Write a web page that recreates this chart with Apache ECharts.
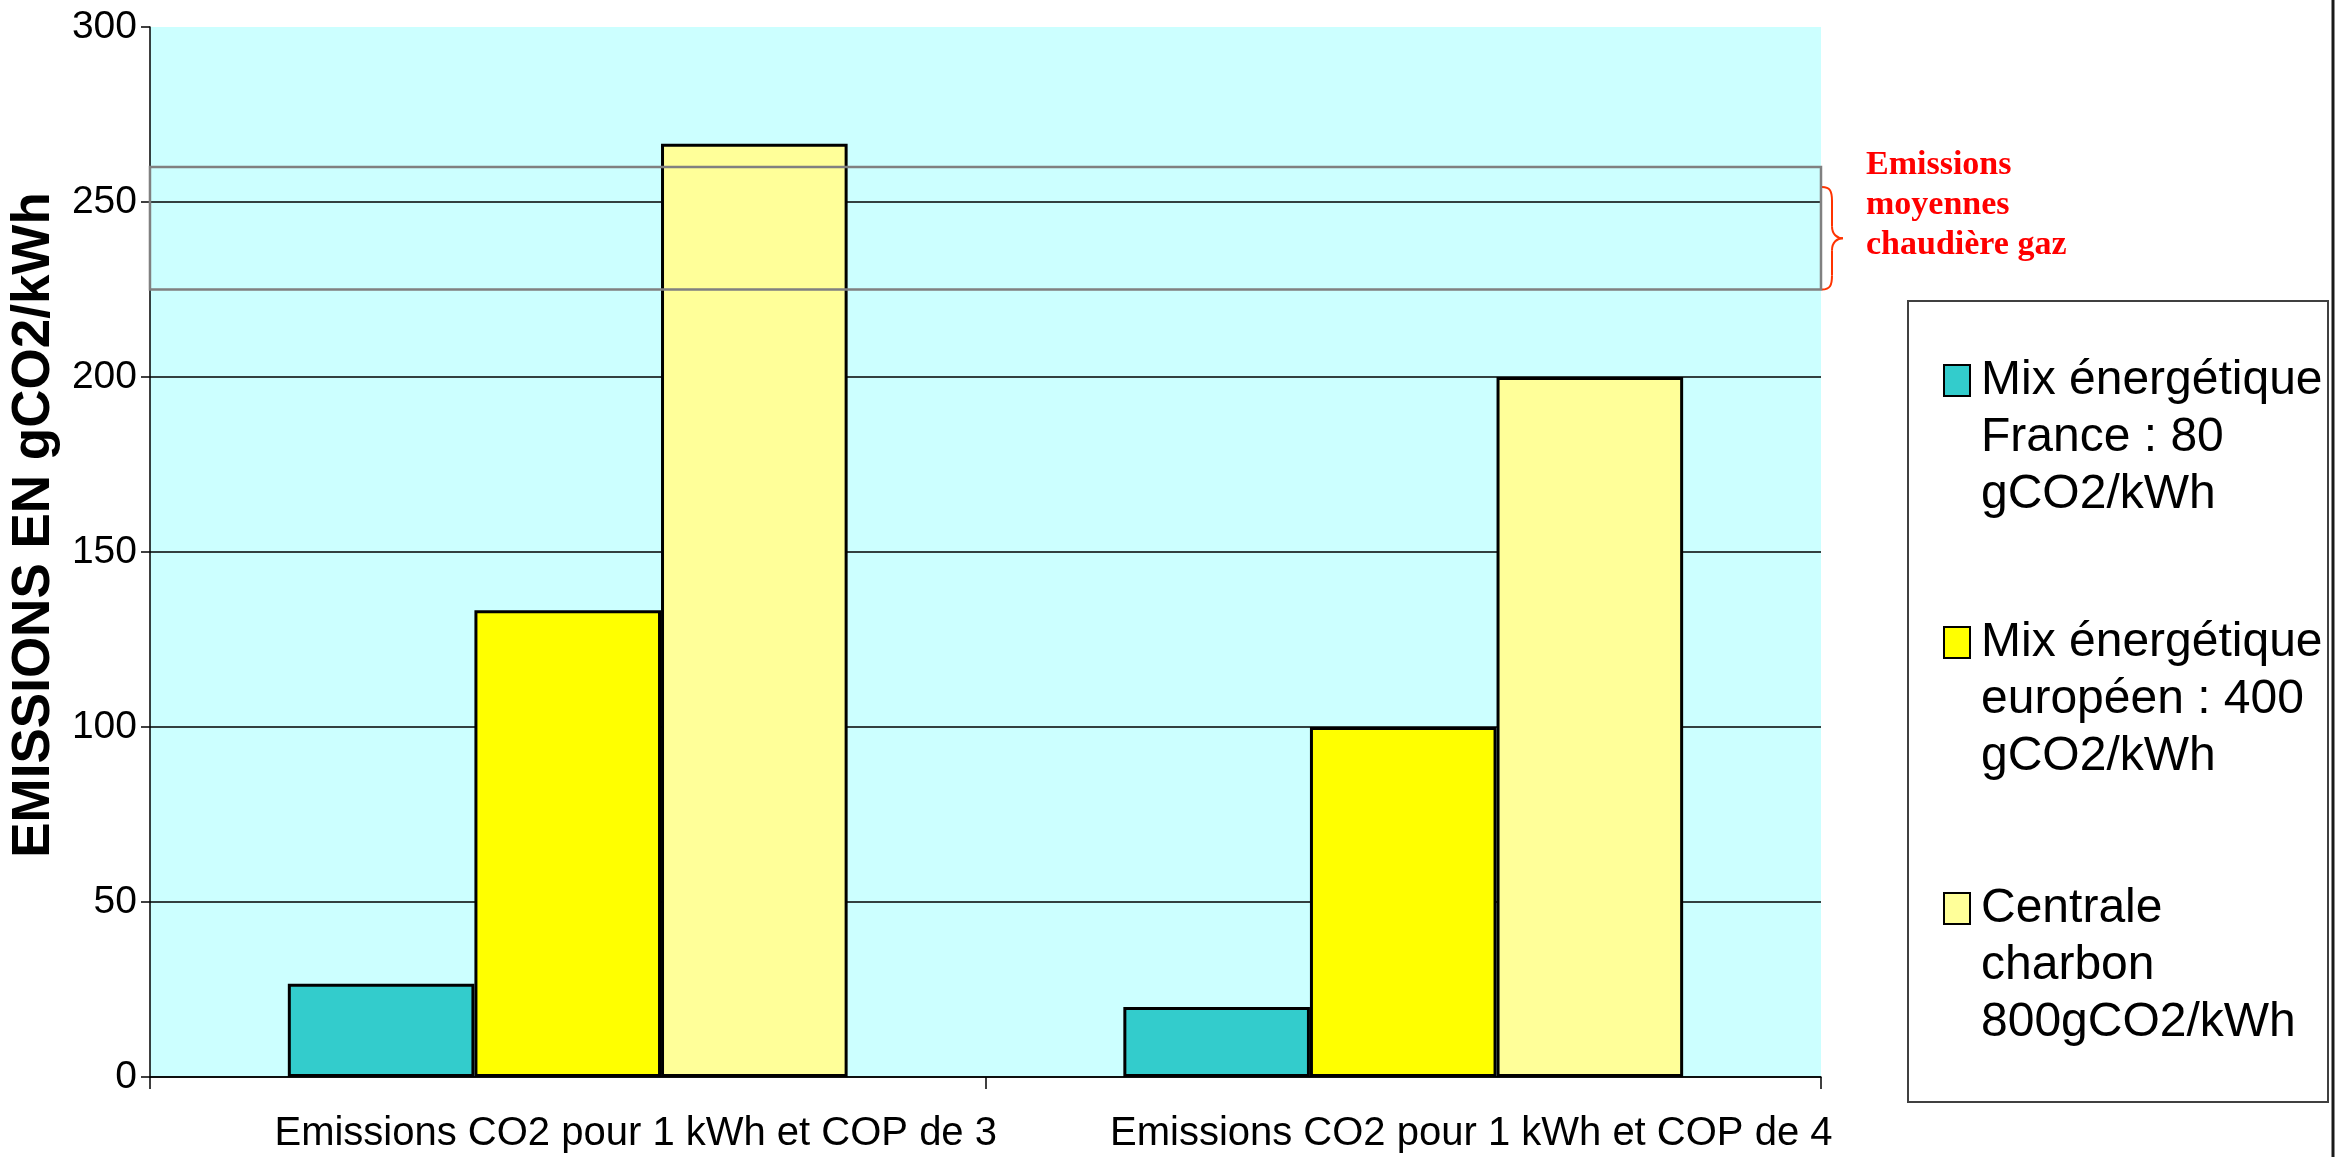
<!DOCTYPE html>
<html>
<head>
<meta charset="utf-8">
<script src="https://cdn.jsdelivr.net/npm/echarts@6/dist/echarts.min.js"></script>
<style>
  html, body { margin: 0; padding: 0; background: #ffffff; }
  #chart { width: 2337px; height: 1157px; }
</style>
</head>
<body>
<div id="chart"></div>
<script>
// Emissions de CO2 par kWh de chaleur d'une pompe à chaleur, selon l'origine de l'électricité
const categories = [
  'Emissions CO2 pour 1 kWh et COP de 3',
  'Emissions CO2 pour 1 kWh et COP de 4'
];
const seriesNames = [
  'Mix énergétique France : 80 gCO2/kWh',
  'Mix énergétique européen : 400 gCO2/kWh',
  'Centrale charbon 800gCO2/kWh'
];
const legendLabels = [
  'Mix énergétique\nFrance : 80\ngCO2/kWh',
  'Mix énergétique\neuropéen : 400\ngCO2/kWh',
  'Centrale\ncharbon\n800gCO2/kWh'
];
const franceMix = [26.67, 20];
const europeMix = [133.33, 100];
const coalPlant = [266.67, 200];
// fourchette des émissions moyennes d'une chaudière gaz (gCO2/kWh)
const gasBoilerRange = [225, 260];
const gasBoilerLabel = 'Emissions\nmoyennes\nchaudière gaz';
const yAxisTitle = 'EMISSIONS EN gCO2/kWh';
const yMin = 0, yMax = 300, yStep = 50;

const seriesColors = ['#33CCCC', '#FFFF00', '#FFFF99'];
const seriesData = [franceMix, europeMix, coalPlant];

const chart = echarts.init(document.getElementById('chart'), null, { renderer: 'canvas' });

const GRID = { left: 146, right: 516, top: 27, bottom: 80 };
const legendIconTops = [365, 627, 893];
const LEGEND_LINE = 57;
// two blank lines above each three-line label put its first line level with the icon
const legendBoxHalf = (5 * LEGEND_LINE) / 2;
const SANS = 'Liberation Sans, Arial, sans-serif';

const option = {
  backgroundColor: '#ffffff',
  animation: false,
  grid: {
    left: GRID.left, right: GRID.right, top: GRID.top, bottom: GRID.bottom,
    show: true, backgroundColor: '#CCFFFF', borderWidth: 0
  },
  xAxis: {
    type: 'category',
    data: categories,
    axisLine: { lineStyle: { color: '#000', width: 1.5 } },
    axisTick: { show: true, length: 12, interval: 0, lineStyle: { color: '#000', width: 1.5 } },
    axisLabel: {
      interval: 0, margin: 37, color: '#000',
      // an empty spacer on the left moves each centred label a little to the right
      formatter: (v) => '{pad|}{t|' + v + '}',
      rich: {
        pad: { width: 136 },
        t: { fontSize: 40, color: '#000', fontFamily: SANS }
      }
    },
    splitLine: { show: false }
  },
  yAxis: {
    type: 'value',
    min: yMin, max: yMax, interval: yStep,
    name: yAxisTitle,
    nameLocation: 'middle',
    nameRotate: 90,
    nameGap: 77,
    nameTextStyle: {
      fontSize: 53, fontWeight: 'bold', color: '#000',
      fontFamily: SANS,
      padding: [0, 0, 0, 54]
    },
    axisLine: { show: true, lineStyle: { color: '#000', width: 1.5 } },
    axisTick: { show: true, length: 9, lineStyle: { color: '#000', width: 1.5 } },
    axisLabel: {
      margin: 13, color: '#000', fontSize: 39,
      fontFamily: SANS
    },
    splitLine: { show: true, showMaxLine: false, lineStyle: { color: '#000', width: 1.5 } }
  },
  legend: seriesNames.map((name, i) => ({
    data: [name],
    orient: 'vertical',
    left: 1943,
    top: legendIconTops[i] + 31 / 2 - legendBoxHalf,
    padding: 0,
    itemWidth: 26,
    itemHeight: 31,
    icon: 'rect',
    selectedMode: false,
    formatter: () => '\n\n' + legendLabels[i],
    itemStyle: { borderColor: '#000', borderWidth: 2 },
    textStyle: {
      color: '#000', fontSize: 48, lineHeight: LEGEND_LINE,
      fontFamily: SANS,
      padding: [0, 0, 0, 6]
    }
  })),
  series: seriesNames.map((name, i) => {
    const s = {
      name: name,
      type: 'bar',
      data: seriesData[i],
      barGap: '0%',
      barCategoryGap: '33%',
      itemStyle: { color: seriesColors[i], borderColor: '#000', borderWidth: 3 },
      emphasis: { disabled: true }
    };
    if (i === 0) {
      s.markArea = {
        silent: true,
        z: 10,
        label: { show: false },
        itemStyle: { color: 'rgba(0,0,0,0)', borderColor: '#808080', borderWidth: 2.5 },
        data: [[{ yAxis: gasBoilerRange[0] }, { yAxis: gasBoilerRange[1] }]]
      };
    }
    return s;
  })
};

chart.setOption(option);

// curly brace next to the gas-boiler band, its caption, legend frame and right-hand border
const plotRight = chart.getWidth() - GRID.right;
const yLow = chart.convertToPixel({ yAxisIndex: 0 }, gasBoilerRange[0]);
const yHigh = chart.convertToPixel({ yAxisIndex: 0 }, gasBoilerRange[1]) + 20;
const yMid = (yLow + yHigh) / 2;
const x0 = plotRight + 1, xv = x0 + 10, xt = x0 + 21;
const braceStyle = { fill: 'none', stroke: '#FF3300', lineWidth: 2 };
const brace = {
  type: 'group',
  silent: true,
  children: [
    { type: 'bezierCurve', shape: { x1: x0, y1: yHigh, cpx1: x0 + 8, cpy1: yHigh, cpx2: xv, cpy2: yHigh + 4, x2: xv, y2: yHigh + 14 }, style: braceStyle },
    { type: 'line', shape: { x1: xv, y1: yHigh + 14, x2: xv, y2: yMid - 12 }, style: braceStyle },
    { type: 'bezierCurve', shape: { x1: xv, y1: yMid - 12, cpx1: xv, cpy1: yMid - 4, cpx2: xv + 5, cpy2: yMid, x2: xt, y2: yMid }, style: braceStyle },
    { type: 'bezierCurve', shape: { x1: xt, y1: yMid, cpx1: xv + 5, cpy1: yMid, cpx2: xv, cpy2: yMid + 4, x2: xv, y2: yMid + 12 }, style: braceStyle },
    { type: 'line', shape: { x1: xv, y1: yMid + 12, x2: xv, y2: yLow - 14 }, style: braceStyle },
    { type: 'bezierCurve', shape: { x1: xv, y1: yLow - 14, cpx1: xv, cpy1: yLow - 4, cpx2: x0 + 8, cpy2: yLow, x2: x0, y2: yLow }, style: braceStyle }
  ]
};

chart.setOption({
  graphic: [
    brace,
    {
      type: 'text',
      x: 1866, y: 145,
      style: {
        text: gasBoilerLabel,
        fill: '#FF0000',
        font: 'bold 34px "Liberation Serif", "Times New Roman", serif',
        lineHeight: 40,
        verticalAlign: 'top',
        align: 'left'
      },
      silent: true
    },
    {
      type: 'rect',
      shape: { x: 1908, y: 301, width: 420, height: 801 },
      style: { fill: 'none', stroke: '#404040', lineWidth: 2 },
      silent: true
    },
    {
      type: 'line',
      shape: { x1: 2333, y1: 0, x2: 2333, y2: 1157 },
      style: { stroke: '#1a1a1a', lineWidth: 3 },
      silent: true
    }
  ]
});
</script>
</body>
</html>
